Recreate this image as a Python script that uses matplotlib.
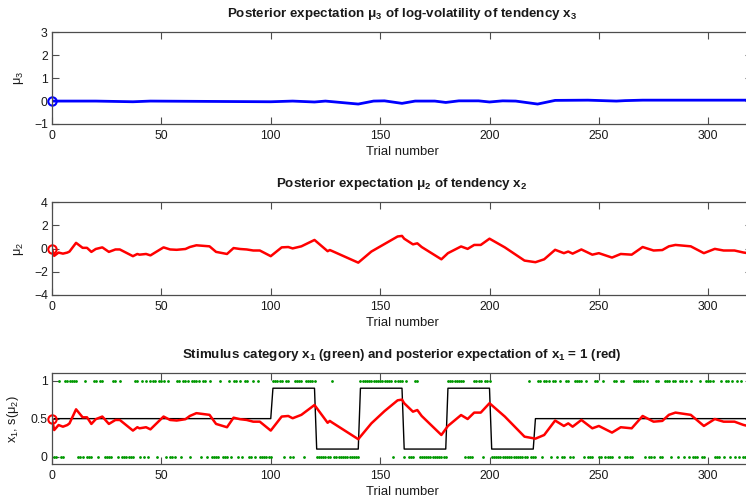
import numpy as np
import matplotlib.pyplot as plt

plt.rcParams["font.family"] = ["Liberation Sans", "DejaVu Sans"]
plt.rcParams["mathtext.fontset"] = "custom"
plt.rcParams["mathtext.rm"] = "Liberation Sans"
plt.rcParams["mathtext.it"] = "Liberation Sans"
plt.rcParams["mathtext.bf"] = "Liberation Sans:bold"
plt.rcParams["mathtext.default"] = "regular"

# binary inputs, one row per 20 trials
input_rows = [
    "00100111111000100011",
    "01100001101000000110",
    "10101110111010001101",
    "11011110110100001000",
    "10110101100101000000",
    "11111011001111011111",
    "00000001000000000000",
    "11111111111111101111",
    "01000110000000000000",
    "11111111000011110111",
    "00000000000000000100",
    "01101110110100110011",
    "11010001100100001101",
    "10000111110100011001",
    "11011011010100010011",
    "11000101101010100010",
]

# true probability of category 1 per block
block_probs = [0.5, 0.9, 0.1, 0.9, 0.1, 0.9, 0.1, 0.5]
block_lengths = [100, 20, 20, 20, 20, 20, 20, 100]

# posterior mean mu2 (tendency) at selected trials
mu2_trials = [0, 1, 3, 5, 7, 8, 11, 14, 16, 18, 20, 23, 26, 29, 31, 37, 39, 40,
              43, 45, 51, 54, 57, 61, 63, 66, 72, 75, 80, 83, 86, 89, 92, 95,
              100, 105, 108, 110, 114, 120, 126, 127, 128, 140, 146, 152, 158,
              160, 161, 165, 167, 169, 178, 181, 187, 190, 193, 196, 200, 207,
              216, 221, 225, 230, 234, 236, 238, 242, 247, 250, 256, 260, 265,
              270, 275, 279, 282, 285, 292, 298, 303, 307, 312, 316, 320]
mu2_values = [0.0, -0.62, -0.34, -0.43, -0.34, -0.25, 0.50, 0.07, 0.07, -0.28,
              -0.03, 0.11, -0.28, -0.07, -0.07, -0.65, -0.46, -0.52, -0.46,
              -0.58, 0.11, -0.07, -0.10, -0.03, 0.14, 0.29, 0.20, -0.28, -0.46,
              0.05, -0.03, -0.07, -0.16, -0.16, -0.65, 0.11, 0.14, 0.02, 0.20,
              0.75, -0.22, -0.12, -0.20, -1.21, -0.25, 0.40, 1.05, 1.10, 0.86,
              0.37, 0.46, 0.14, -0.92, -0.39, 0.19, -0.02, 0.32, 0.32, 0.86,
              0.11, -1.03, -1.17, -0.92, -0.10, -0.39, -0.25, -0.43, -0.07,
              -0.52, -0.39, -0.77, -0.46, -0.52, 0.14, -0.16, -0.12, 0.20,
              0.32, 0.20, -0.39, -0.02, -0.16, -0.16, -0.33, -0.45]

# posterior mean mu3 (log-volatility) at selected trials
mu3_trials = [0, 20, 37, 45, 100, 110, 120, 125, 140, 147, 152, 160, 166, 175,
              180, 186, 195, 200, 206, 212, 222, 230, 245, 258, 262, 270, 300, 320]
mu3_values = [0.0, 0.0, -0.03, 0.0, -0.03, 0.0, -0.04, 0.0, -0.13, 0.0, 0.01,
              -0.10, 0.0, 0.0, -0.06, 0.01, 0.01, -0.04, 0.01, 0.0, -0.13, 0.03,
              0.04, 0.0, 0.02, 0.04, 0.04, 0.04]

u = np.array([int(c) for row in input_rows for c in row])
trials = np.arange(1, len(u) + 1)
prob = np.repeat(block_probs, block_lengths)
mu2_trials = np.array(mu2_trials)
mu2_values = np.array(mu2_values)
sgm_mu2 = 1 / (1 + np.exp(-mu2_values))

text_col = "#1a1a1a"
frame_col = "#4d4d4d"
title_kw = dict(fontsize=9.6, fontweight="bold", color=text_col, pad=11)

fig = plt.figure(figsize=(7.46, 5.01), dpi=100)
left, width = 52 / 746, 700 / 746
axs = [
    fig.add_axes([left, 0.7525, width, 0.183]),
    fig.add_axes([left, 0.4112, width, 0.185]),
    fig.add_axes([left, 0.0733, width, 0.1822]),
]

ax = axs[0]
ax.plot(mu3_trials, mu3_values, color="blue", lw=2.0)
ax.plot(0, mu3_values[0], "o", mfc="none", mec="blue", ms=6, mew=1.5, clip_on=False)
ax.set_ylim(-1, 3)
ax.set_yticks([-1, 0, 1, 2, 3])
ax.set_ylabel(r"$\mu_3$", fontsize=9.2, color=text_col)
ax.yaxis.set_label_coords(-0.037, 0.5)
ax.set_title(r"Posterior expectation μ$_\mathbf{3}$ of log-volatility of tendency x$_\mathbf{3}$",
             **title_kw)

ax = axs[1]
ax.plot(mu2_trials, mu2_values, color="red", lw=1.8)
ax.plot(0, mu2_values[0], "o", mfc="none", mec="red", ms=6, mew=1.5, clip_on=False)
ax.set_ylim(-4, 4)
ax.set_yticks([-4, -2, 0, 2, 4])
ax.set_ylabel(r"$\mu_2$", fontsize=9.2, color=text_col)
ax.yaxis.set_label_coords(-0.037, 0.5)
ax.set_title(r"Posterior expectation μ$_\mathbf{2}$ of tendency x$_\mathbf{2}$", **title_kw)

ax = axs[2]
ax.plot(trials, u, ".", color=(0, 0.6, 0), ms=2.0)
ax.plot(trials, prob, color="black", lw=1.0)
ax.plot(mu2_trials, sgm_mu2, color="red", lw=1.8)
ax.plot(0, sgm_mu2[0], "o", mfc="none", mec="red", ms=6, mew=1.5, clip_on=False)
ax.set_ylim(-0.1, 1.1)
ax.set_yticks([0, 0.5, 1])
ax.set_yticklabels(["0", "0.5", "1"])
ax.set_ylabel(r"x$_1$, s($\mu_2$)", fontsize=9.2, color=text_col)
ax.yaxis.set_label_coords(-0.045, 0.5)
ax.set_title(r"Stimulus category x$_\mathbf{1}$ (green) and posterior expectation of x$_\mathbf{1}$ = 1 (red)",
             **title_kw)

for ax in axs:
    ax.set_xlim(0, 320)
    ax.set_xticks([0, 50, 100, 150, 200, 250, 300])
    ax.tick_params(direction="in", length=5, width=0.8, top=True, right=True,
                   labelsize=8.8, colors=frame_col, labelcolor=text_col, pad=4)
    ax.tick_params(axis="y", pad=3)
    for sp in ax.spines.values():
        sp.set_color(frame_col)
        sp.set_linewidth(0.9)
    ax.set_xlabel("Trial number", fontsize=9.4, color=text_col)
    ax.xaxis.set_label_coords(0.5, -0.24)

fig.savefig("out.png", dpi=100)
